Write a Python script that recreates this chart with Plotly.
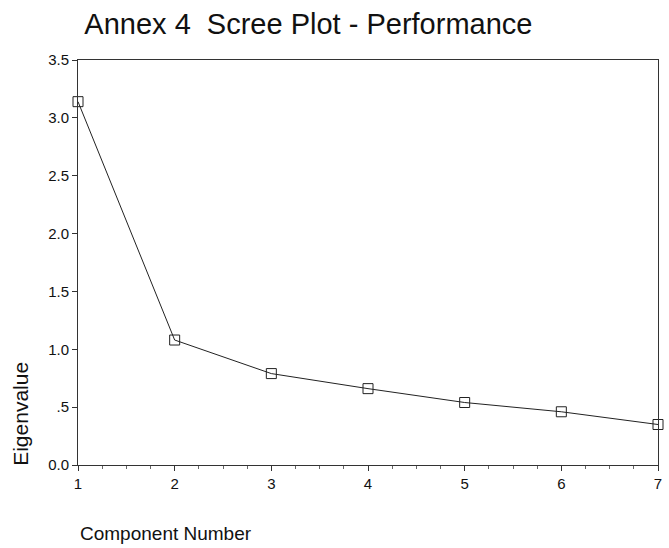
import plotly.graph_objects as go

components = [1, 2, 3, 4, 5, 6, 7]
eigenvalues = [3.14, 1.08, 0.79, 0.66, 0.54, 0.46, 0.35]
y_tick_vals = [0.0, 0.5, 1.0, 1.5, 2.0, 2.5, 3.0, 3.5]
y_tick_text = ["0.0", ".5", "1.0", "1.5", "2.0", "2.5", "3.0", "3.5"]
x_tick_vals = [1, 2, 3, 4, 5, 6, 7]

fig = go.Figure()
fig.add_trace(go.Scatter(
    x=components, y=eigenvalues, mode="lines+markers",
    line=dict(color="#222222", width=1),
    marker=dict(symbol="square-open", size=10, color="#222222", line=dict(width=1)),
    cliponaxis=False, showlegend=False,
))

fig.update_layout(
    width=669, height=548,
    margin=dict(l=78, r=7, t=60, b=83),
    paper_bgcolor="white", plot_bgcolor="white",
    font=dict(family="Liberation Sans, Arial, sans-serif", color="#111111"),
    title=dict(text="Annex 4  Scree Plot - Performance", x=0.461, xanchor="center",
               y=0.956, yanchor="middle", font=dict(size=29, color="#111111")),
)
fig.update_xaxes(
    range=[1, 7], tickvals=x_tick_vals, showgrid=False, zeroline=False,
    showline=True, linecolor="#333333", linewidth=1, mirror=True,
    ticks="outside", ticklen=5, tickcolor="#333333", tickfont=dict(size=15),
    minor=dict(ticks="outside", ticklen=3, dtick=0.25, tickcolor="#666666"),
)
fig.update_yaxes(
    range=[0, 3.5], tickvals=y_tick_vals, ticktext=y_tick_text, showgrid=False,
    zeroline=False, showline=True, linecolor="#333333", linewidth=1, mirror=True,
    ticks="outside", ticklen=5, tickcolor="#333333", tickfont=dict(size=15),
)
fig.add_annotation(text="Eigenvalue", xref="paper", yref="paper", x=-0.099, y=-0.008,
                   xanchor="center", yanchor="bottom", textangle=-90,
                   showarrow=False, font=dict(size=21))
fig.add_annotation(text="Component Number", xref="paper", yref="paper", x=0.0, y=-0.168,
                   xanchor="left", yanchor="middle", showarrow=False, font=dict(size=19))

fig.write_html("out.html", config={"displayModeBar": False},
               post_script="document.body.style.margin='0px';")
